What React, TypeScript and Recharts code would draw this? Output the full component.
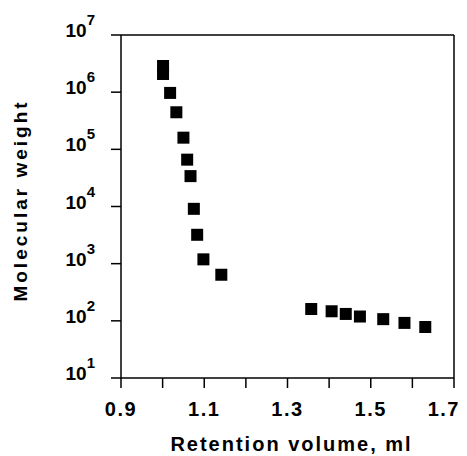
import { ScatterChart, Scatter, XAxis, YAxis, ReferenceLine, Label } from 'recharts';

const retentionVolume = [
  1.001, 1.001, 1.018, 1.033, 1.05, 1.059, 1.067, 1.075, 1.083, 1.098, 1.141,
  1.357, 1.406, 1.44, 1.474, 1.53, 1.581, 1.631
];
const molecularWeight = [
  2870000, 2080000, 970000, 445000, 160000, 66000, 34000, 9100, 3200, 1190, 640,
  161, 147, 132, 119, 107, 92, 78
];
const xTicks = [0.9, 1.0, 1.1, 1.2, 1.3, 1.4, 1.5, 1.6, 1.7];
const xTickLabels = ['0.9', '1.1', '1.3', '1.5', '1.7'];
const yTicks = [10, 100, 1000, 10000, 100000, 1000000, 10000000];

const data = retentionVolume.map((v, i) => ({ v, mw: molecularWeight[i] }));

const FONT = '"Liberation Sans", Arial, Helvetica, sans-serif';

const Square = (props: any) => {
  const { cx, cy } = props;
  return <rect x={cx - 6} y={cy - 6} width={12} height={12} fill='#000' />;
};

const YTick = (props: any) => {
  const { x, y, payload } = props;
  const exp = Math.round(Math.log10(payload.value));
  return (
    <text x={x} y={y + 2} textAnchor='end' fontFamily={FONT} fontWeight='bold' fontSize={19} fill='#000'>
      <tspan>10</tspan>
      <tspan dy={-12} fontSize={15}>{exp}</tspan>
    </text>
  );
};

const XTick = (props: any) => {
  const { x, y, payload } = props;
  const label = payload.value.toFixed(1);
  if (!xTickLabels.includes(label)) return <g />;
  const last = label === xTickLabels[xTickLabels.length - 1];
  return (
    <text x={last ? x + 6 : x} y={y + 26} textAnchor={last ? 'end' : 'middle'} fontFamily={FONT}
      fontWeight='bold' fontSize={20} letterSpacing={1.5} fill='#000'>
      {label}
    </text>
  );
};

export default function App() {
  return (
    <div style={{ position: 'absolute', left: 0, top: 0, background: '#fff' }}>
      <ScatterChart width={467} height={456} margin={{ top: 35, right: 13, bottom: 0, left: 0 }}>
        <XAxis
          type='number'
          dataKey='v'
          domain={[0.9, 1.7]}
          ticks={xTicks}
          interval={0}
          height={78}
          tickSize={10}
          tick={<XTick />}
          stroke='#000'
          strokeWidth={1.5}
          allowDataOverflow
        >
          <Label
            content={(p: any) => {
              const vb = p.viewBox;
              return (
                <text x={vb.x + vb.width / 2 + 4} y={vb.y + 73} textAnchor='middle' fontFamily={FONT}
                  fontWeight='bold' fontSize={20} letterSpacing={2} fill='#000'>
                  Retention volume, ml
                </text>
              );
            }}
          />
        </XAxis>
        <YAxis
          type='number'
          dataKey='mw'
          scale='log'
          domain={[10, 10000000]}
          ticks={yTicks}
          interval={0}
          width={121}
          tickSize={10}
          tickMargin={16}
          tick={<YTick />}
          stroke='#000'
          strokeWidth={1.5}
          allowDataOverflow
        >
          <Label
            content={(p: any) => {
              const vb = p.viewBox;
              const cy = vb.y + vb.height / 2 - 6;
              return (
                <text x={27} y={cy} transform={`rotate(-90 27 ${cy})`} textAnchor='middle' fontFamily={FONT}
                  fontWeight='bold' fontSize={19} letterSpacing={3} fill='#000'>
                  Molecular weight
                </text>
              );
            }}
          />
        </YAxis>
        <ReferenceLine y={10000000} stroke='#000' strokeWidth={1.5} />
        <ReferenceLine x={1.7} stroke='#000' strokeWidth={1.5} />
        <Scatter data={data} fill='#000' shape={<Square />} isAnimationActive={false} />
      </ScatterChart>
    </div>
  );
}
